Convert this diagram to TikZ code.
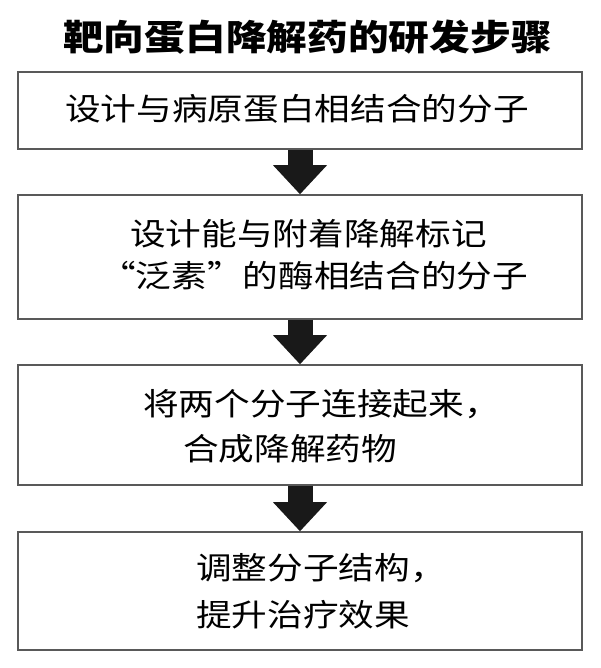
\documentclass[tikz,border=0pt]{standalone}
\usepackage{fontspec}
\usetikzlibrary{arrows.meta}
\newfontfamily\cjk{Noto Sans CJK SC}[FakeStretch=1.15]

\tikzset{
    stepbox/.style={draw=black!65, line width=1.6pt, inner sep=0pt, minimum width=564pt},
    textline/.style={anchor=base west, inner sep=0pt, font=\cjk\fontsize{31}{31}\selectfont},
    bigarrow/.style={draw=black!90, line width=25pt, -{Triangle[width=54pt, length=29pt, line width=0pt]}},
}

\begin{document}
\begin{tikzpicture}[x=1pt, y=1pt]
    \def\txt#1#2#3#4{%
        \node[textline] (#1) at (#2, -#3) {#4};
    }

    \fill[white] (0,0) rectangle (600,-668);
    \useasboundingbox (0,0) rectangle (600,-668);

    % title
    \node[anchor=base west, inner sep=0pt, font=\cjk\bfseries\fontsize{35.4}{35.4}\selectfont] (title) at (63, -51) {靶向蛋白降解药的研发步骤};

    % boxes (x 18 -> 582)
    \node[stepbox, minimum height=77pt] (b1) at (300, -110.5) {};
    \node[stepbox, minimum height=124pt] (b2) at (300, -257) {};
    \node[stepbox, minimum height=120pt] (b3) at (300, -425) {};
    \node[stepbox, minimum height=118pt] (b4) at (300, -591) {};

    % texts
    \txt{t1}{65}{121}{设计与病原蛋白相结合的分子}
    \txt{t2a}{130}{245}{设计能与附着降解标记}
    \txt{t2b}{100}{287}{\addfontfeature{RawFeature=+fwid}“泛素”的酶相结合的分子}
    \txt{t3a}{143}{415}{将两个分子连接起来，}
    \txt{t3b}{183}{460}{合成降解药物}
    \txt{t4a}{196}{579}{调整分子结构，}
    \txt{t4b}{196}{626}{提升治疗效果}

    % arrows
    \draw[bigarrow] (b1.south) -- (b2.north);
    \draw[bigarrow] (b2.south) -- (b3.north);
    \draw[bigarrow] (b3.south) -- (b4.north);

\end{tikzpicture}
\end{document}
